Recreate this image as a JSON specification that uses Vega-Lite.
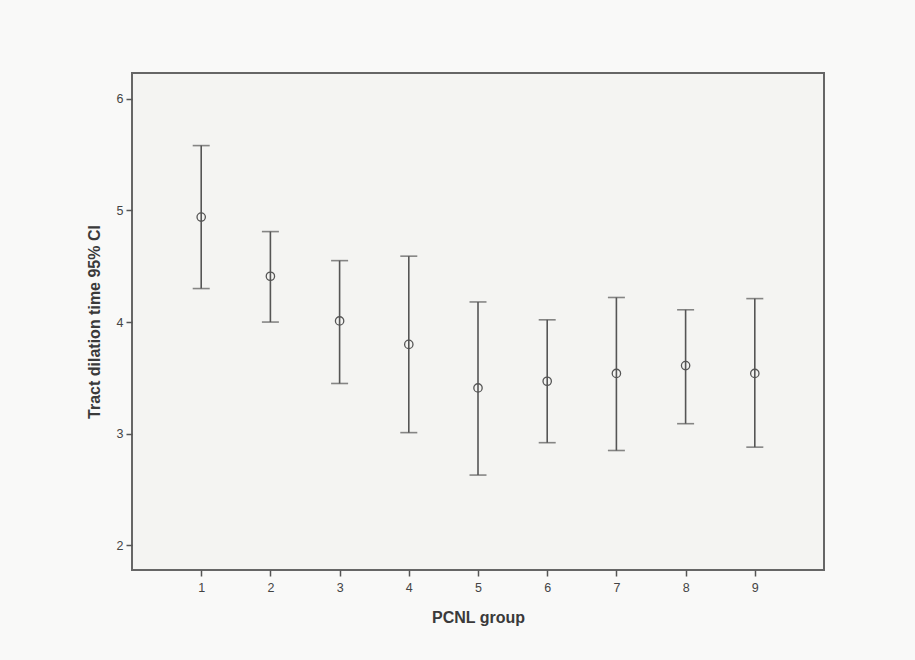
{
  "$schema": "https://vega.github.io/schema/vega-lite/v6.json",
  "autosize": {"type": "none"},
  "width": 692,
  "height": 497,
  "padding": {"left": 132, "top": 73, "right": 91, "bottom": 90},
  "background": "#f9f9f8",
  "config": {
    "view": {"fill": "#f4f4f2", "stroke": "#666666", "strokeWidth": 2},
    "font": "Liberation Sans",
    "axis": {
      "domain": false,
      "grid": false,
      "tickColor": "#555555",
      "tickSize": 6,
      "tickWidth": 1.5,
      "labelColor": "#444444",
      "labelFontSize": 12.5,
      "labelFont": "Liberation Sans",
      "titleFont": "Liberation Sans",
      "titleFontSize": 16,
      "titleFontWeight": "bold",
      "titleColor": "#3a3a3a"
    }
  },
  "data": {
    "values": [
      {"group": 1, "mean": 4.94, "lower": 4.30, "upper": 5.58},
      {"group": 2, "mean": 4.41, "lower": 4.00, "upper": 4.81},
      {"group": 3, "mean": 4.01, "lower": 3.45, "upper": 4.55},
      {"group": 4, "mean": 3.80, "lower": 3.01, "upper": 4.59},
      {"group": 5, "mean": 3.41, "lower": 2.63, "upper": 4.18},
      {"group": 6, "mean": 3.47, "lower": 2.92, "upper": 4.02},
      {"group": 7, "mean": 3.54, "lower": 2.85, "upper": 4.22},
      {"group": 8, "mean": 3.61, "lower": 3.09, "upper": 4.11},
      {"group": 9, "mean": 3.54, "lower": 2.88, "upper": 4.21}
    ]
  },
  "encoding": {
    "x": {
      "field": "group",
      "type": "quantitative",
      "scale": {"domain": [0, 10], "nice": false, "zero": false},
      "axis": {"values": [1, 2, 3, 4, 5, 6, 7, 8, 9], "format": "d", "title": "PCNL group", "titlePadding": 16, "labelPadding": 5}
    }
  },
  "layer": [
    {
      "mark": {"type": "rule", "color": "#555555", "strokeWidth": 1.6},
      "encoding": {
        "y": {
          "field": "lower",
          "type": "quantitative",
          "scale": {"domain": [1.78, 6.23], "nice": false, "zero": false},
          "axis": {"values": [2, 3, 4, 5, 6], "format": "d", "title": "Tract dilation time 95% CI", "titlePadding": 14, "labelPadding": 3}
        },
        "y2": {"field": "upper"}
      }
    },
    {
      "mark": {"type": "tick", "orient": "horizontal", "color": "#555555", "size": 17, "thickness": 1.6},
      "encoding": {"y": {"field": "lower", "type": "quantitative"}}
    },
    {
      "mark": {"type": "tick", "orient": "horizontal", "color": "#555555", "size": 17, "thickness": 1.6},
      "encoding": {"y": {"field": "upper", "type": "quantitative"}}
    },
    {
      "mark": {"type": "point", "shape": "circle", "filled": false, "color": "#555555", "size": 70, "strokeWidth": 1.3, "opacity": 1},
      "encoding": {"y": {"field": "mean", "type": "quantitative"}}
    }
  ]
}
